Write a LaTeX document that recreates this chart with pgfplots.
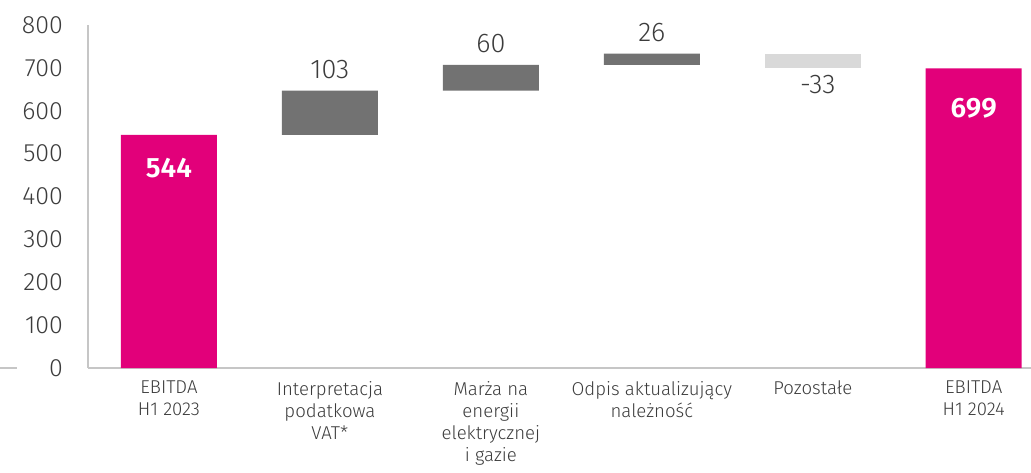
\documentclass[border=0pt]{standalone}
\usepackage{fontspec}
\setmainfont{Fira Sans}[UprightFont={* Light}, BoldFont={* SemiBold}]
\usepackage{pgfplots}
\pgfplotsset{compat=1.18}
\definecolor{brandMagenta}{HTML}{E2007A}
\definecolor{stepDark}{HTML}{727272}
\definecolor{stepLight}{HTML}{D9D9D9}
\definecolor{axisGray}{HTML}{C6C6C6}
\definecolor{txtGray}{HTML}{3C3C3C}
\tikzset{vlab/.style={text=txtGray, font=\fontsize{13.5}{15}\selectfont},
  tlab/.style={text=white, font=\fontsize{14}{16}\selectfont\bfseries}}

\begin{document}
\begin{tikzpicture}
  \begin{axis}[
    at={(44pt,52pt)}, anchor=south west,
    scale only axis, width=471.5pt, height=171.5pt,
    xmin=-0.503, xmax=5.356, ymin=0, ymax=800,
    ybar stacked, bar width=48pt,
    axis x line=bottom, axis y line=left,
    axis line style={-, draw=axisGray, line width=0.75pt},
    major tick length=0pt,
    ytick={0,100,...,800},
    xtick={0,...,5},
    xticklabels={{EBITDA\\H1 2023},{Interpretacja\\podatkowa\\VAT*},{Marża na\\energii\\elektrycznej\\i gazie},{Odpis aktualizujący\\należność},{Pozostałe},{EBITDA\\H1 2024}},
    xticklabel style={align=center, text=txtGray, font=\fontsize{9.3}{11}\selectfont, yshift=-3pt},
    yticklabel style={text=txtGray, font=\fontsize{12.5}{14}\selectfont, xshift=-9pt},
    /pgf/number format/assume math mode=true,
    clip=false,
  ]
    % transparent base bars carry each step up to its level
    \addplot[draw=none, fill=white, fill opacity=0] coordinates {(0,0) (1,544) (2,647) (3,707) (4,700) (5,0)};
    \addplot[draw=none, fill=brandMagenta] coordinates {(0,544) (1,0) (2,0) (3,0) (4,0) (5,699)};
    \addplot[draw=none, fill=stepDark] coordinates {(0,0) (1,103) (2,60) (3,26) (4,0) (5,0)};
    \addplot[draw=none, fill=stepLight] coordinates {(0,0) (1,0) (2,0) (3,0) (4,33) (5,0)};

    \coordinate (v1) at (axis cs:1,647);
    \coordinate (v2) at (axis cs:2,707);
    \coordinate (v3) at (axis cs:3,733);
    \coordinate (v4) at (axis cs:4,700);
    \coordinate (v0) at (axis cs:0,544);
    \coordinate (v5) at (axis cs:5,699);
  \end{axis}
  \node[vlab, yshift=10.5pt] at (v1) {103};
  \node[vlab, yshift=10.5pt] at (v2) {60};
  \node[vlab, yshift=10.5pt] at (v3) {26};
  \node[vlab, yshift=-8.5pt, xshift=2.5pt] at (v4) {-33};
  \node[tlab, yshift=-16.5pt] at (v0) {544};
  \node[tlab, yshift=-20pt] at (v5) {699};
  \draw[axisGray, line width=0.75pt] (0,52pt) -- (8.5pt,52pt);
  \pgfresetboundingbox
  \path[use as bounding box] (0,0) rectangle (515.5pt,236pt);
\end{tikzpicture}
\end{document}
